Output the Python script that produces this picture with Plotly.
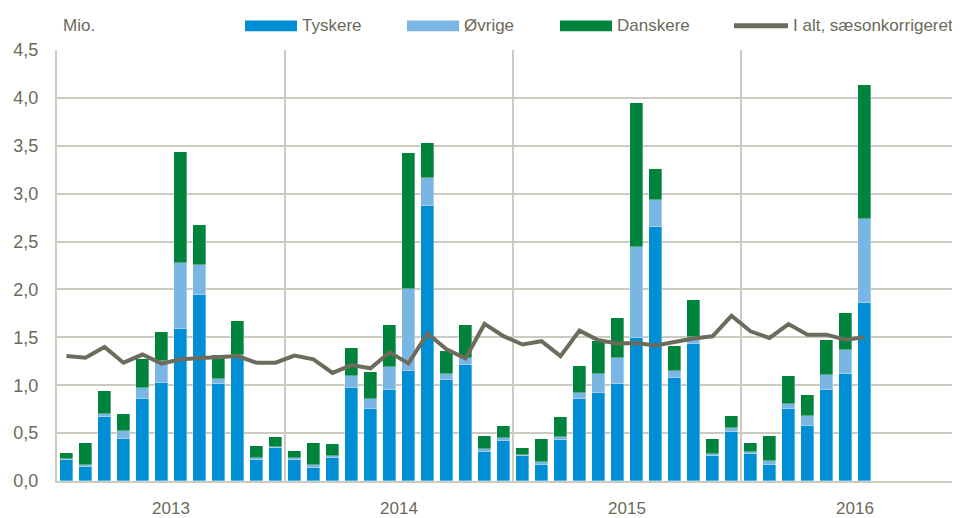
import plotly.graph_objects as go

# Monthly data Jan 2013 - Jul 2016 (mio. overnight stays)
months = [f"{y}-{m:02d}" for y in (2013, 2014, 2015, 2016) for m in range(1, 13)][:43]

tyskere = [0.215, 0.15, 0.67, 0.44, 0.855, 1.02, 1.59, 1.945, 1.017, 1.29, 0.215, 0.34,
           0.22, 0.14, 0.24, 0.976, 0.75, 0.95, 1.15, 2.87, 1.05, 1.21, 0.305, 0.42,
           0.26, 0.163, 0.43, 0.854, 0.923, 1.017, 1.494, 2.652, 1.072, 1.431, 0.256, 0.508,
           0.283, 0.17, 0.75, 0.574, 0.947, 1.117, 1.857]
ovrige = [0.015, 0.02, 0.03, 0.08, 0.12, 0.23, 0.685, 0.31, 0.05, 0.03, 0.02, 0.016,
          0.015, 0.025, 0.02, 0.117, 0.105, 0.245, 0.85, 0.295, 0.07, 0.07, 0.027, 0.03,
          0.014, 0.031, 0.027, 0.069, 0.197, 0.27, 0.944, 0.28, 0.079, 0.07, 0.028, 0.045,
          0.025, 0.035, 0.049, 0.10, 0.163, 0.252, 0.881]
danskere = [0.06, 0.23, 0.24, 0.175, 0.295, 0.31, 1.155, 0.42, 0.25, 0.35, 0.13, 0.10,
            0.075, 0.23, 0.13, 0.30, 0.285, 0.43, 1.42, 0.363, 0.235, 0.345, 0.142, 0.125,
            0.075, 0.242, 0.215, 0.273, 0.34, 0.42, 1.51, 0.325, 0.263, 0.388, 0.159, 0.125,
            0.093, 0.27, 0.30, 0.225, 0.36, 0.384, 1.397]
i_alt_saeson = [1.305, 1.287, 1.40, 1.235, 1.32, 1.225, 1.27, 1.28, 1.287, 1.305, 1.235, 1.235,
                1.31, 1.27, 1.128, 1.21, 1.177, 1.343, 1.228, 1.54, 1.374, 1.28, 1.64, 1.512,
                1.425, 1.46, 1.304, 1.57, 1.47, 1.435, 1.44, 1.414, 1.452, 1.487, 1.511, 1.725,
                1.563, 1.494, 1.639, 1.528, 1.528, 1.476, 1.50]

years = ["2013", "2014", "2015", "2016"]
year_pos = [5.5, 17.5, 29.5, 41.5]
ytick_vals = [0, 0.5, 1, 1.5, 2, 2.5, 3, 3.5, 4, 4.5]

C_TYS = "#008fd5"
C_OVR = "#7ab6e3"
C_DAN = "#00843d"
C_LINE = "#6d6c5c"
C_TEXT = "#6b6a5a"
C_GRID = "#cbcbc0"
FONT = "Liberation Sans, Arial, sans-serif"

x = list(range(len(months)))

fig = go.Figure()
edge = dict(width=0.6, color="rgba(255,255,255,0.55)")
fig.add_trace(go.Bar(x=x, y=tyskere, name="Tyskere", marker=dict(color=C_TYS, line=edge), width=0.68))
fig.add_trace(go.Bar(x=x, y=ovrige, name="Øvrige", marker=dict(color=C_OVR, line=edge), width=0.68))
fig.add_trace(go.Bar(x=x, y=danskere, name="Danskere", marker=dict(color=C_DAN, line=edge), width=0.68))
fig.add_trace(go.Scatter(x=x, y=i_alt_saeson, name="I alt, sæsonkorrigeret", mode="lines",
                         line=dict(color=C_LINE, width=4)))

# page body has an 8px margin: figure starts at (8, 8) in the window
OFF = 8
FW, FH = 960 - OFF, 518 - OFF
L, T, W, H = 57 - OFF, 50 - OFF, 903, 437


def px(xp):  # window pixel x -> paper
    return (xp - OFF - L) / W


def py(yp):  # window pixel y -> paper
    return (T + H - (yp - OFF)) / H


shapes = []
annotations = []
legend_items = [
    ("rect", C_TYS, 245, 297, "Tyskere", 300),
    ("rect", C_OVR, 407, 459, "Øvrige", 462),
    ("rect", C_DAN, 560, 612, "Danskere", 615),
    ("line", C_LINE, 734, 788, "I alt, sæsonkorrigeret", 791),
]
for kind, col, x0, x1, label, tx in legend_items:
    if kind == "rect":
        shapes.append(dict(type="rect", xref="paper", yref="paper", x0=px(x0), x1=px(x1),
                           y0=py(31), y1=py(20), fillcolor=col, line=dict(width=0)))
    else:
        shapes.append(dict(type="line", xref="paper", yref="paper", x0=px(x0), x1=px(x1),
                           y0=py(25.5), y1=py(25.5), line=dict(color=col, width=5)))
    annotations.append(dict(text=label, xref="paper", yref="paper", x=px(tx), y=py(25.5),
                            xanchor="left", yanchor="middle", showarrow=False,
                            font=dict(family=FONT, size=17, color=C_TEXT)))
annotations.append(dict(text="Mio.", xref="paper", yref="paper", x=px(61), y=py(25.5),
                        xanchor="left", yanchor="middle", showarrow=False,
                        font=dict(family=FONT, size=17, color=C_TEXT)))

fig.update_layout(
    width=FW, height=FH,
    margin=dict(l=L, r=FW - L - W, t=T, b=FH - T - H, pad=0),
    barmode="stack",
    bargap=0,
    showlegend=False,
    plot_bgcolor="white",
    paper_bgcolor="white",
    separators=",.",
    font=dict(family=FONT, size=17, color=C_TEXT),
    shapes=shapes,
    annotations=annotations,
)
fig.update_xaxes(
    range=[-0.5, -0.5 + W / 19.0],
    tickmode="array", tickvals=year_pos, ticktext=years,
    showgrid=False, ticks="", ticklabelstandoff=11,
    showline=True, linecolor=C_GRID, linewidth=2,
    minor=dict(tickmode="array", tickvals=[11.5, 23.5, 35.5], showgrid=True,
               gridcolor=C_GRID, gridwidth=1.5, ticks=""),
    tickfont=dict(size=17, color=C_TEXT),
    zeroline=False,
)
fig.update_yaxes(
    range=[0, 4.5],
    tickmode="array", tickvals=ytick_vals, tickformat=".1f",
    showgrid=True, gridcolor=C_GRID, gridwidth=1.5,
    showline=True, linecolor=C_GRID, linewidth=2,
    zeroline=False, ticks="", ticklabelstandoff=13,
    tickfont=dict(size=18, color=C_TEXT),
)

fig.write_html("out.html")
